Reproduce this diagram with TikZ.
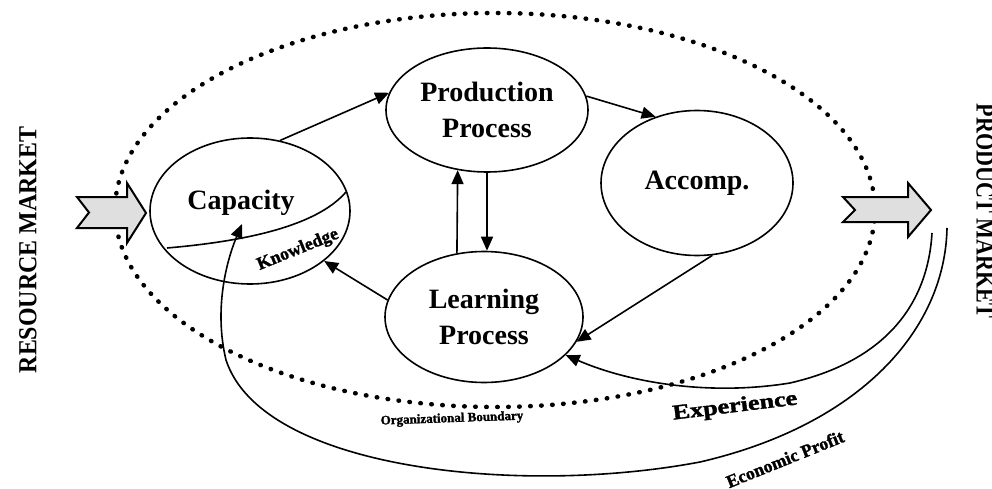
\documentclass[tikz,border=0pt]{standalone}
\usepackage{fontspec}
\setmainfont{Liberation Serif}
\newfontfamily\smudge{Liberation Serif}[FakeBold=1.5]
\usetikzlibrary{arrows.meta,shapes.geometric,positioning}

\tikzset{
  stage/.style={draw, ellipse, line width=1.6pt, inner sep=0pt, align=center, font=\fontsize{28}{36}\selectfont\bfseries},
  flow/.style={line width=1.6pt, -{Triangle[length=14pt,width=12pt]}},
  tag/.style={inner sep=0pt, font=\smudge\fontsize{#1}{#1}\selectfont\bfseries},
  market/.style={draw, line width=2pt, fill=gray!25, line join=miter},
  side/.style={inner sep=0pt, font=\fontsize{26}{26}\selectfont\bfseries},
}

\begin{document}
\begin{tikzpicture}[x=1pt, y=-1pt]
    \useasboundingbox (0,0) rectangle (992,489);
    \clip (0,0) rectangle (992,489);

    % Organizational boundary
    \draw[line width=4.5pt, dash pattern=on 0.5pt off 10.5pt, line cap=round] (495,210) ellipse [x radius=380, y radius=197];
    \node[tag=13, rotate=2] (orgb) at (452,419) {Organizational Boundary};

    % Stages
    \node[stage, minimum width=200pt, minimum height=146pt] (cap) at (250,211) {};
    \node[stage, draw=none] (captxt) at (241,203) {Capacity};
    \node[stage, minimum width=202pt, minimum height=124pt] (prod) at (487,110) {Production\\Process};
    \node[stage, minimum width=192pt, minimum height=145pt] (acc) at (697,183) {Accomp.};
    \node[stage, minimum width=198pt, minimum height=131pt] (learn) at (484,317) {Learning\\Process};

    % Part of capacity
    \draw[line width=1.6pt] (167,248) .. controls (260,240) and (320,222) .. (346,192);
    \node[tag=18, rotate=22] (know) at (298,250) {Knowledge};

    % Flows between stages
    \draw[flow] (cap.67) -- (prod.170);
    \draw[flow] (prod.8) -- (acc.122);
    \draw[flow] (acc.282) -- (learn.345);
    \draw[flow] (learn.170) -- (cap.326);
    \draw[flow] (learn.113) -- (prod.244);
    \draw[flow] (prod.south) -- (prod.south |- learn.north);

    % Markets
    \draw[market] (77,197) -- (127,197) -- (127,183) -- (146,213) -- (127,243) -- (127,228) -- (77,228) -- (89,212.5) -- cycle;
    \draw[market] (843,197) -- (908,197) -- (908,183) -- (931,210) -- (908,237) -- (908,222) -- (843,222) -- (855,210) -- cycle;
    \node[side, rotate=90, xscale=0.92] (resm) at (28,250) {RESOURCE MARKET};
    \node[side, rotate=-90, xscale=0.85] (prodm) at (985,211) {PRODUCT MARKET};

    % Feedback from the product market
    \coordinate (expstart) at (932,233);
    \coordinate (profstart) at (947,228);
    \coordinate (capin) at (242,224);
    \draw[flow] (expstart) .. controls (928,300) and (890,360) .. (790,383) .. controls (710,396) and (630,383) .. (learn.335);
    \draw[flow] (profstart) .. controls (945,330) and (860,425) .. (700,462) .. controls (520,496) and (262,470) .. (226,360) .. controls (214,310) and (226,262) .. (capin);
    \node[tag=21, rotate=7, xscale=1.25] (exper) at (735,407) {Experience};
    \node[tag=18, rotate=22] (econ) at (785,459) {Economic Profit};
\end{tikzpicture}
\end{document}
